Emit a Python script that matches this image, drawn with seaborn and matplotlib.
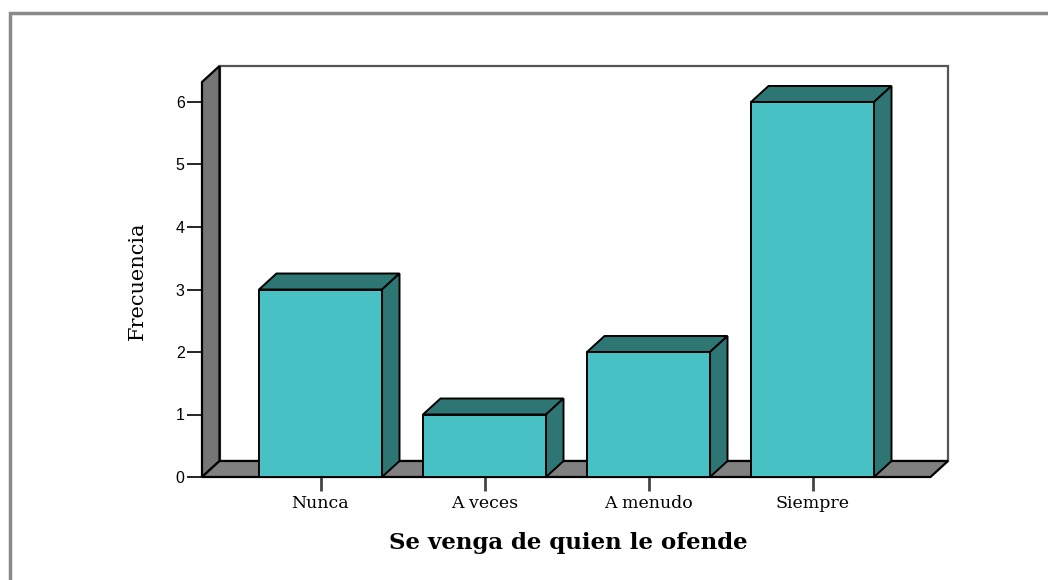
import matplotlib
matplotlib.use("Agg")
import matplotlib.pyplot as plt
import seaborn as sns
import pandas as pd
from matplotlib.patches import Polygon, Rectangle

# --- data ---
categories = ['Nunca', 'A veces', 'A menudo', 'Siempre']
frequencies = [3, 1, 2, 6]
y_ticks = [0, 1, 2, 3, 4, 5, 6]

df = pd.DataFrame({'categoria': categories, 'frecuencia': frequencies})

front_color = '#48C1C4'
shade_color = '#2E7673'
wall_color = '#767676'
floor_color = '#808080'

sns.set_style('white')
plt.rcParams['text.color'] = 'black'
plt.rcParams['axes.labelcolor'] = 'black'
plt.rcParams['xtick.color'] = 'black'
plt.rcParams['ytick.color'] = 'black'

fig = plt.figure(figsize=(10.48, 5.80), dpi=100)
W, H = 1048, 580

# axes placed so that the front plane of the 3D box maps to the reference pixels
ax = fig.add_axes([202 / W, (H - 477) / H, (960 - 202) / W, (477 - 60) / H])
px_x = 164.0   # pixels per category
px_y = 62.5    # pixels per count
x0 = (202 - 320.5) / px_x

dx = 17.5 / px_x   # depth offset
dy = 16.0 / px_y
x_back_right = (948 - 320.5) / px_x
y_top = (477 - 66) / px_y

bar_w = 123 / px_x
sns.barplot(data=df, x='categoria', y='frecuencia', color=front_color, saturation=1,
            width=bar_w, edgecolor='black', linewidth=1.4, ax=ax, zorder=3)

# seaborn resets the limits, so set them afterwards
ax.set_xlim(x0, (960 - 320.5) / px_x)
ax.set_ylim(0, (477 - 60) / px_y)

# back wall
ax.add_patch(Rectangle((x0 + dx, dy), x_back_right - x0 - dx, y_top - dy,
                       facecolor='white', edgecolor='#555555', lw=1.6, zorder=0.5))
# left wall
ax.add_patch(Polygon([(x0, 0), (x0, y_top - dy), (x0 + dx, y_top), (x0 + dx, dy)],
                     closed=True, facecolor=wall_color, edgecolor='black', lw=1.6,
                     zorder=0.6, clip_on=False))
# floor
ax.add_patch(Polygon([(x0, 0), (x_back_right - dx, 0), (x_back_right, dy), (x0 + dx, dy)],
                     closed=True, facecolor=floor_color, edgecolor='black', lw=1.6,
                     zorder=0.6, clip_on=False))

# 3D top and side faces of each bar
for i, v in enumerate(frequencies):
    l, r = i - bar_w / 2, i + bar_w / 2
    ax.add_patch(Polygon([(l, v), (r, v), (r + dx, v + dy), (l + dx, v + dy)],
                         closed=True, facecolor=shade_color, edgecolor='black', lw=1.4, zorder=2.5))
    ax.add_patch(Polygon([(r, 0), (r, v), (r + dx, v + dy), (r + dx, dy)],
                         closed=True, facecolor=shade_color, edgecolor='black', lw=1.4, zorder=2.5))

for s in ax.spines.values():
    s.set_visible(False)

ax.set_yticks(y_ticks)
ax.set_yticklabels([str(t) for t in y_ticks], family='Liberation Sans', fontsize=11.5)
ax.tick_params(axis='y', left=True, length=11, width=1.2, color='black', pad=1.5)
ax.set_xticks(range(len(categories)))
ax.set_xticklabels(categories, family='DejaVu Serif', fontsize=12.5)
ax.tick_params(axis='x', bottom=True, length=10, width=2, color='#444444', pad=3)

ax.set_xlabel('Se venga de quien le ofende', family='DejaVu Serif', fontsize=16.5,
              fontweight='bold')
ax.xaxis.set_label_coords((568 - 202) / 758, -(543 - 477) / 417, transform=None)
ax.xaxis.label.set_transform(ax.transAxes)
ax.xaxis.label.set_verticalalignment('center')
ax.set_ylabel('Frecuencia', family='DejaVu Serif', fontsize=15)
ax.yaxis.set_label_coords((137 - 202) / 758, (477 - 281) / 417)
ax.yaxis.label.set_verticalalignment('center')

# outer frame of the chart
fig.add_artist(Rectangle((10 / W, -0.05), 1.1, (H - 13) / H + 0.05, transform=fig.transFigure,
                         fill=False, edgecolor='#8a8a8a', lw=2.5))

fig.savefig('out.png', dpi=100)
